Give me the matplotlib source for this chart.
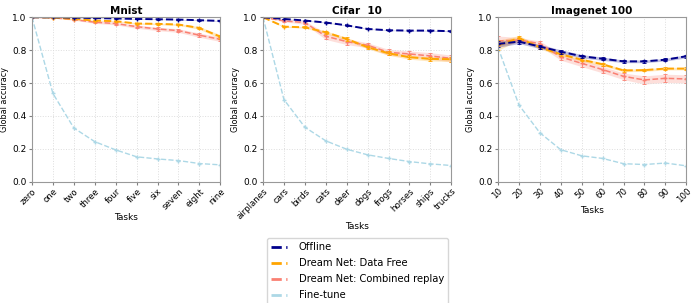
import numpy as np
import matplotlib
matplotlib.use('agg')
import matplotlib.pyplot as plt
from matplotlib.lines import Line2D

mnist_tasks = ['zero', 'one', 'two', 'three', 'four', 'five', 'six', 'seven', 'eight', 'nine']
cifar_tasks = ['airplanes', 'cars', 'birds', 'cats', 'deer', 'dogs', 'frogs', 'horses', 'ships', 'trucks']
imagenet_tasks = [10, 20, 30, 40, 50, 60, 70, 80, 90, 100]

# mnist
mnist_offline = [1.0, 1.0, 0.998, 0.995, 0.993, 0.99, 0.988, 0.986, 0.982, 0.978]
mnist_free = [1.0, 0.998, 0.99, 0.98, 0.976, 0.962, 0.96, 0.956, 0.935, 0.882]
mnist_comb = [1.0, 0.997, 0.986, 0.97, 0.962, 0.943, 0.929, 0.919, 0.891, 0.866]
mnist_fine = [1.0, 0.537, 0.327, 0.244, 0.194, 0.152, 0.139, 0.129, 0.111, 0.103]
mnist_offline_sd = [0, 0, 0.001, 0.002, 0.002, 0.002, 0.002, 0.002, 0.002, 0.002]
mnist_free_sd = [0, 0.001, 0.003, 0.004, 0.004, 0.005, 0.005, 0.006, 0.008, 0.012]
mnist_comb_sd = [0, 0.002, 0.004, 0.007, 0.008, 0.01, 0.01, 0.011, 0.013, 0.013]

# cifar
cifar_offline = [1.0, 0.99, 0.98, 0.968, 0.951, 0.929, 0.921, 0.919, 0.919, 0.915]
cifar_free = [1.0, 0.943, 0.939, 0.909, 0.868, 0.818, 0.781, 0.757, 0.747, 0.745]
cifar_comb = [1.0, 0.978, 0.968, 0.885, 0.852, 0.83, 0.787, 0.777, 0.765, 0.75]
cifar_fine = [1.0, 0.5, 0.332, 0.249, 0.198, 0.164, 0.142, 0.123, 0.109, 0.099]
cifar_offline_sd = [0, 0.002, 0.002, 0.002, 0.002, 0.002, 0.002, 0.002, 0.002, 0.002]
cifar_free_sd = [0, 0.004, 0.005, 0.008, 0.01, 0.01, 0.012, 0.012, 0.013, 0.014]
cifar_comb_sd = [0, 0.006, 0.01, 0.02, 0.018, 0.015, 0.018, 0.018, 0.02, 0.02]

# imagenet
imnet_offline = [0.838, 0.852, 0.822, 0.791, 0.763, 0.748, 0.732, 0.732, 0.742, 0.763]
imnet_free = [0.83, 0.874, 0.817, 0.775, 0.742, 0.714, 0.677, 0.679, 0.688, 0.688]
imnet_comb = [0.856, 0.862, 0.84, 0.759, 0.72, 0.682, 0.641, 0.619, 0.629, 0.625]
imnet_fine = [0.817, 0.467, 0.298, 0.195, 0.158, 0.142, 0.11, 0.105, 0.114, 0.097]
imnet_offline_sd = [0.02, 0.012, 0.012, 0.012, 0.01, 0.01, 0.008, 0.008, 0.008, 0.01]
imnet_free_sd = [0.03, 0.015, 0.01, 0.01, 0.01, 0.01, 0.008, 0.008, 0.008, 0.008]
imnet_comb_sd = [0.03, 0.015, 0.015, 0.02, 0.02, 0.02, 0.02, 0.025, 0.025, 0.025]

colors = {'offline': 'darkblue', 'free': 'orange', 'comb': 'salmon', 'fine': 'lightblue'}
labels = {'offline': 'Offline', 'free': 'Dream Net: Data Free',
          'comb': 'Dream Net: Combined replay', 'fine': 'Fine-tune'}
widths = {'offline': 1.4, 'free': 1.4, 'comb': 1.1, 'fine': 1.0}

panels = [
    ('Mnist', mnist_tasks, {'offline': (mnist_offline, mnist_offline_sd), 'free': (mnist_free, mnist_free_sd),
                            'comb': (mnist_comb, mnist_comb_sd), 'fine': (mnist_fine, None)}),
    ('Cifar  10', cifar_tasks, {'offline': (cifar_offline, cifar_offline_sd), 'free': (cifar_free, cifar_free_sd),
                                'comb': (cifar_comb, cifar_comb_sd), 'fine': (cifar_fine, None)}),
    ('Imagenet 100', imagenet_tasks, {'offline': (imnet_offline, imnet_offline_sd), 'free': (imnet_free, imnet_free_sd),
                                      'comb': (imnet_comb, imnet_comb_sd), 'fine': (imnet_fine, None)}),
]

fig = plt.figure(figsize=(6.91, 3.03), dpi=100)
lefts = [0.0463, 0.3806, 0.7207]
for i, (title, tasks, series) in enumerate(panels):
    ax = fig.add_axes([lefts[i], 0.4, 0.2725, 0.543])
    if isinstance(tasks[0], str):
        x = np.arange(len(tasks))
    else:
        x = np.array(tasks)
    for key in ['fine', 'comb', 'free', 'offline']:
        y, sd = series[key]
        y = np.array(y)
        if sd is not None:
            sd = np.array(sd)
            ax.fill_between(x, y - sd, y + sd, color=colors[key], alpha=0.25, lw=0)
            ax.errorbar(x, y, yerr=sd, color=colors[key], lw=0, elinewidth=0.6, capsize=1.5, capthick=0.6)
        ax.plot(x, y, '--', color=colors[key], lw=widths[key], marker='+', markersize=3)
    ax.set_xlim(x[0], x[-1])
    ax.set_ylim(0, 1)
    ax.set_xticks(x)
    ax.set_xticklabels([str(t) for t in tasks], rotation=45, fontsize=6.2,
                       ha='right', rotation_mode='anchor')
    ax.tick_params(axis='y', labelsize=6.5, pad=1.5)
    ax.tick_params(axis='x', pad=1)
    ax.tick_params(length=2.5, color='gray')
    ax.grid(True, linestyle=':', color='#dddddd', lw=0.7)
    for s in ax.spines.values():
        s.set_color('#999999')
    ax.set_title(title, fontsize=7.5, fontweight='bold', pad=2)
    ax.set_ylabel('Global accuracy', fontsize=5.8, labelpad=2)
    ax.set_xlabel('Tasks', fontsize=6.5, labelpad=1)

handles = [Line2D([], [], color=colors[k], ls='--', lw=2) for k in ['offline', 'free', 'comb', 'fine']]
fig.legend(handles, [labels[k] for k in ['offline', 'free', 'comb', 'fine']], loc='upper center',
           bbox_to_anchor=(0.517, 0.231), fontsize=7.2, handlelength=1.6, frameon=True,
           borderpad=0.4, labelspacing=0.6, handletextpad=1.2)
fig.savefig('out.png', dpi=100)
